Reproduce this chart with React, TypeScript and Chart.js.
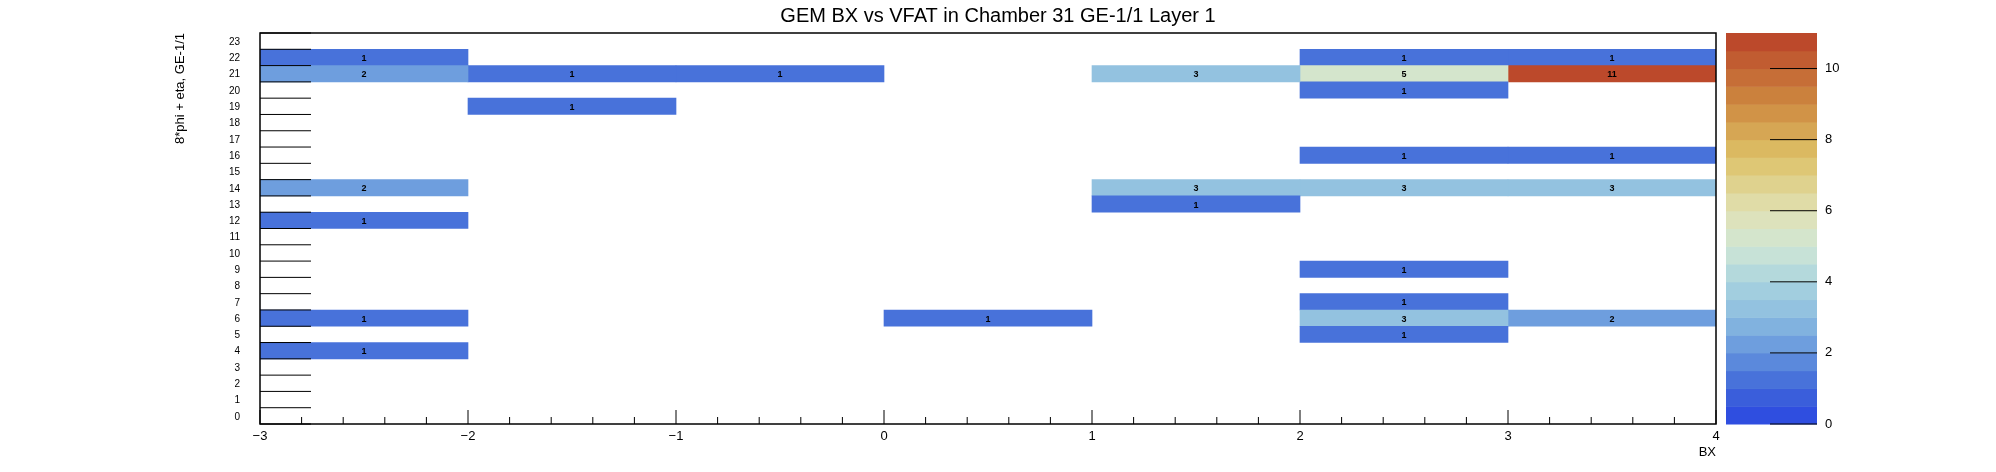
import React from "react";
import { Chart, registerables } from "chart.js";

Chart.register(...registerables);

// BX bins start at these values, each one wide
const bxBins = [-3, -2, -1, 0, 1, 2, 3];
// rows 23 (top) .. 0 (bottom)
const rows = Array.from({ length: 24 }, (_, i) => String(23 - i));
// counts per row, index matches bxBins; 0 = empty
const counts: Record<string, number[]> = {
  "22": [1, 0, 0, 0, 0, 1, 1],
  "21": [2, 1, 1, 0, 3, 5, 11],
  "20": [0, 0, 0, 0, 0, 1, 0],
  "19": [0, 1, 0, 0, 0, 0, 0],
  "16": [0, 0, 0, 0, 0, 1, 1],
  "14": [2, 0, 0, 0, 3, 3, 3],
  "13": [0, 0, 0, 0, 1, 0, 0],
  "12": [1, 0, 0, 0, 0, 0, 0],
  "9": [0, 0, 0, 0, 0, 1, 0],
  "7": [0, 0, 0, 0, 0, 1, 0],
  "6": [1, 0, 0, 1, 0, 3, 2],
  "5": [0, 0, 0, 0, 0, 1, 0],
  "4": [1, 0, 0, 0, 0, 0, 0],
};
const zMax = 11;
const zTicks = [0, 2, 4, 6, 8, 10];
const xTicks = [-3, -2, -1, 0, 1, 2, 3, 4];

const stops: [number, number[]][] = [
  [0, [42, 70, 226]],
  [1, [63, 102, 217]],
  [2, [100, 148, 221]],
  [3, [139, 188, 224]],
  [4, [170, 212, 222]],
  [5, [208, 230, 212]],
  [6, [225, 225, 180]],
  [7.5, [221, 194, 104]],
  [9, [206, 138, 64]],
  [11, [185, 64, 40]],
];
const bands = 22;
function colorAt(v: number) {
  const b = Math.min(bands - 1, Math.floor((v / zMax) * bands));
  const t = ((b + 0.5) / bands) * zMax;
  for (let i = 1; i < stops.length; i++) {
    if (t <= stops[i][0]) {
      const [a0, c0] = stops[i - 1];
      const [a1, c1] = stops[i];
      const f = (t - a0) / (a1 - a0);
      const c = c0.map((x, k) => Math.round(x + (c1[k] - x) * f));
      return `rgb(${c.join(",")})`;
    }
  }
  return "rgb(185,64,40)";
}

const FONT = "'Liberation Sans', Arial, sans-serif";

const decor = {
  id: "decor",
  afterDatasetsDraw(chart: Chart) {
    const { ctx, chartArea: a, scales } = chart;
    const x = scales.x;
    const y = scales.y;
    ctx.save();
    // cell numbers
    ctx.fillStyle = "#000";
    ctx.font = `bold 9px ${FONT}`;
    ctx.textAlign = "center";
    ctx.textBaseline = "middle";
    rows.forEach((r, ri) => {
      const c = counts[r];
      if (!c) return;
      c.forEach((v, bi) => {
        if (!v) return;
        ctx.fillText(String(v), x.getPixelForValue(bxBins[bi] + 0.5), y.getPixelForValue(ri) + 1);
      });
    });
    // frame
    ctx.strokeStyle = "#000";
    ctx.lineWidth = 1.5;
    ctx.strokeRect(a.left, a.top, a.right - a.left, a.bottom - a.top);
    // y ticks
    ctx.lineWidth = 1;
    const bh = (a.bottom - a.top) / rows.length;
    ctx.font = `10px ${FONT}`;
    ctx.textAlign = "right";
    for (let i = 0; i <= rows.length; i++) {
      const py = a.top + i * bh;
      ctx.beginPath();
      ctx.moveTo(a.left, py);
      ctx.lineTo(a.left + 51, py);
      ctx.stroke();
    }
    rows.forEach((r, ri) => ctx.fillText(r, a.left - 20, y.getPixelForValue(ri) + 1));
    // x ticks
    ctx.font = `13px ${FONT}`;
    ctx.textBaseline = "top";
    ctx.textAlign = "center";
    for (let v = -3; v <= 4.001; v += 0.2) {
      const px = x.getPixelForValue(v);
      const major = Math.abs(v - Math.round(v)) < 0.01;
      ctx.beginPath();
      ctx.moveTo(px, a.bottom);
      ctx.lineTo(px, a.bottom - (major ? 14 : 7));
      ctx.stroke();
    }
    xTicks.forEach((v) =>
      ctx.fillText(v < 0 ? "\u2212" + Math.abs(v) : String(v), x.getPixelForValue(v), a.bottom + 6)
    );
    ctx.textAlign = "right";
    ctx.fillText("BX", a.right, a.bottom + 22);
    // y title
    ctx.save();
    ctx.translate(180, a.top);
    ctx.rotate(-Math.PI / 2);
    ctx.textAlign = "right";
    ctx.textBaseline = "middle";
    ctx.fillText("8*phi + eta, GE-1/1", 0, 0);
    ctx.restore();
    // title
    ctx.font = `20px ${FONT}`;
    ctx.textAlign = "center";
    ctx.textBaseline = "middle";
    ctx.fillText("GEM BX vs VFAT in Chamber 31 GE-1/1 Layer 1", 998, 16);
    // colour bar
    const cl = 1726, cr = 1817;
    const h = a.bottom - a.top;
    for (let b = 0; b < bands; b++) {
      const y0 = a.bottom - ((b + 1) / bands) * h;
      ctx.fillStyle = colorAt(((b + 0.5) / bands) * zMax);
      ctx.fillRect(cl, y0, cr - cl, h / bands + 0.5);
    }
    ctx.fillStyle = "#000";
    ctx.font = `13px ${FONT}`;
    ctx.textAlign = "left";
    zTicks.forEach((v) => {
      const py = a.bottom - (v / zMax) * h;
      ctx.beginPath();
      ctx.moveTo(1770, py);
      ctx.lineTo(cr, py);
      ctx.stroke();
      ctx.fillText(String(v), cr + 8, py);
    });
    ctx.restore();
  },
};

export default function App() {
  const ref = React.useRef<HTMLCanvasElement | null>(null);
  React.useEffect(() => {
    if (!ref.current) return;
    const datasets = bxBins.map((b, bi) => ({
      data: rows.map((r) => (counts[r]?.[bi] ? [b, b + 1] : null)) as any,
      backgroundColor: rows.map((r) => colorAt(counts[r]?.[bi] ?? 0)),
      borderWidth: 0,
      barPercentage: 1,
      categoryPercentage: 1,
      grouped: false,
    }));
    const chart = new Chart(ref.current, {
      type: "bar",
      data: { labels: rows, datasets },
      options: {
        indexAxis: "y",
        animation: false,
        responsive: false,
        layout: { padding: { left: 260, right: 280, top: 33, bottom: 48 } },
        plugins: { legend: { display: false }, tooltip: { enabled: false } },
        scales: {
          x: { type: "linear", min: -3, max: 4, display: false },
          y: { type: "category", display: false },
        },
      },
      plugins: [decor],
    });
    return () => chart.destroy();
  }, []);
  return (
    <div style={{ position: "absolute", left: 0, top: 0 }}>
      <canvas ref={ref} width={1996} height={472} />
    </div>
  );
}
